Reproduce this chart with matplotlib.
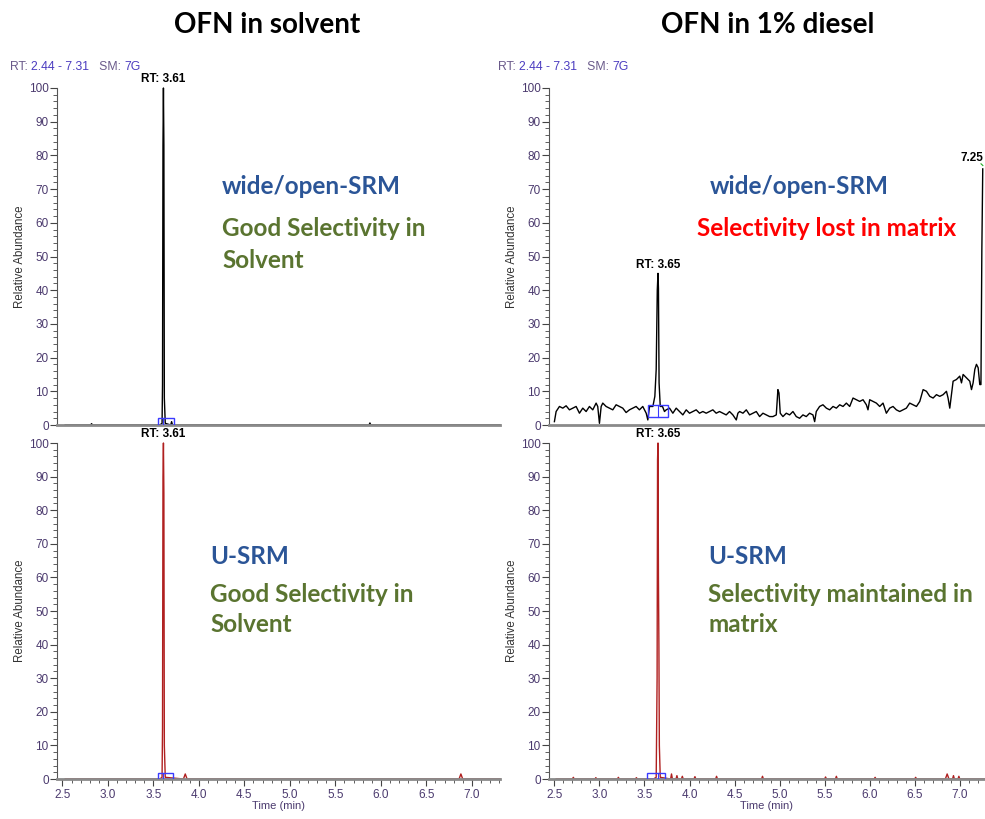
import numpy as np
import matplotlib.pyplot as plt
from matplotlib.ticker import MultipleLocator
from matplotlib.patches import Rectangle

# ---- data (time in min, relative abundance) ----
tl_t = [2.53, 2.81, 2.82, 2.83, 3.57, 3.595, 3.60, 3.605, 3.61, 3.615, 3.62, 3.63,
        3.69, 3.70, 3.71, 5.87, 5.88, 5.89, 7.31]
tl_v = [0, 0, 0.4, 0, 0, 0.5, 12, 83, 100, 83, 8, 0.5,
        0, 1.0, 0, 0, 0.6, 0, 0]

tr_t = [2.500, 2.519, 2.556, 2.593, 2.630, 2.667, 2.704, 2.741, 2.778, 2.815,
        2.852, 2.889, 2.926, 2.963, 2.981, 3.000, 3.019, 3.037, 3.074, 3.111,
        3.148, 3.185, 3.222, 3.259, 3.296, 3.333, 3.370, 3.407, 3.444, 3.481,
        3.519, 3.537, 3.556, 3.593, 3.615, 3.630, 3.642, 3.650, 3.655, 3.662,
        3.675, 3.700, 3.722, 3.741, 3.778, 3.815, 3.852, 3.889, 3.926, 3.963,
        4.000, 4.037, 4.074, 4.111, 4.148, 4.185, 4.222, 4.259, 4.296, 4.333,
        4.370, 4.407, 4.444, 4.481, 4.519, 4.537, 4.556, 4.593, 4.630, 4.667,
        4.704, 4.741, 4.778, 4.815, 4.852, 4.889, 4.926, 4.963, 4.981, 4.993,
        5.007, 5.037, 5.074, 5.111, 5.148, 5.185, 5.222, 5.259, 5.296, 5.333,
        5.370, 5.389, 5.407, 5.444, 5.481, 5.519, 5.556, 5.593, 5.630, 5.667,
        5.704, 5.741, 5.778, 5.815, 5.852, 5.889, 5.926, 5.963, 5.981, 6.000,
        6.037, 6.074, 6.111, 6.148, 6.185, 6.222, 6.259, 6.296, 6.333, 6.370,
        6.407, 6.444, 6.481, 6.519, 6.556, 6.593, 6.630, 6.667, 6.704, 6.741,
        6.778, 6.815, 6.852, 6.870, 6.889, 6.926, 6.963, 7.000, 7.019, 7.037,
        7.074, 7.111, 7.130, 7.148, 7.167, 7.185, 7.204, 7.222, 7.235, 7.245,
        7.255]
tr_v = [1.0, 4.0, 5.5, 5.0, 5.7, 4.5, 5.0, 5.5, 3.5, 5.0,
        4.0, 5.5, 4.5, 6.5, 5.5, 0.5, 5.5, 6.5, 5.5, 5.0,
        4.5, 6.0, 5.5, 5.0, 3.7, 4.5, 5.0, 5.5, 4.5, 5.5,
        3.5, 1.5, 5.5, 5.5, 8.5, 16.5, 40.0, 45.0, 40.5, 12.5,
        5.5, 5.5, 4.0, 4.5, 5.0, 3.5, 5.0, 4.0, 3.0, 4.5,
        3.5, 4.0, 4.5, 3.5, 4.0, 3.5, 4.0, 4.5, 3.5, 4.0,
        3.5, 3.0, 4.0, 3.0, 1.5, 3.5, 4.0, 3.5, 4.5, 3.0,
        3.5, 4.0, 2.5, 3.5, 3.0, 2.5, 2.5, 3.0, 10.5, 9.5,
        3.5, 2.5, 3.5, 3.0, 4.0, 2.5, 2.0, 3.0, 2.5, 3.5,
        3.0, 1.0, 4.0, 5.5, 6.0, 5.0, 4.5, 5.5, 5.0, 6.0,
        5.5, 6.5, 5.5, 8.0, 7.5, 7.0, 7.5, 6.0, 4.5, 7.5,
        7.0, 6.5, 5.5, 6.5, 3.5, 5.0, 5.5, 4.5, 4.0, 4.5,
        5.0, 6.5, 6.0, 5.5, 7.0, 10.5, 10.0, 8.5, 8.0, 9.0,
        8.5, 9.0, 10.0, 8.0, 5.0, 13.0, 13.5, 14.5, 12.5, 15.0,
        14.0, 13.0, 10.5, 12.5, 16.5, 18.0, 17.0, 12.0, 12.0, 52.0,
        76.0]

bl_t = [2.53, 3.57, 3.595, 3.60, 3.605, 3.61, 3.615, 3.62, 3.63,
        3.83, 3.85, 3.87, 6.86, 6.88, 6.90, 7.31]
bl_v = [0, 0, 0.5, 15, 90, 100, 85, 10, 0.5,
        0, 1.5, 0, 0, 1.5, 0, 0]

br_t = [2.52, 2.70, 2.71, 2.72, 2.95, 2.96, 2.97, 3.20, 3.21, 3.22,
        3.40, 3.41, 3.42, 3.60, 3.63, 3.64, 3.645, 3.65, 3.655, 3.66,
        3.665, 3.675, 3.79, 3.80, 3.81, 3.85, 3.86, 3.87, 3.91, 3.92,
        3.93, 4.05, 4.06, 4.07, 4.29, 4.30, 4.31, 4.80, 4.81, 4.82,
        5.50, 5.51, 5.52, 5.62, 5.63, 5.64, 6.05, 6.06, 6.07, 6.50,
        6.51, 6.52, 6.84, 6.86, 6.88, 6.92, 6.93, 6.94, 6.98, 6.99,
        7.00, 7.28]
br_v = [0, 0, 0.5, 0, 0, 0.4, 0, 0, 0.5, 0,
        0, 0.4, 0, 0, 0.5, 30, 95, 100, 60, 40,
        10, 0.5, 0, 1.5, 0, 0, 1.0, 0, 0, 0.8,
        0, 0, 0.7, 0, 0, 0.8, 0, 0, 0.8, 0,
        0, 0.6, 0, 0, 0.8, 0, 0, 0.5, 0, 0,
        0.5, 0, 0, 1.5, 0, 0, 1.0, 0, 0, 0.8,
        0, 0]

# integration boxes (t0, t1, y0, y1, apex)
tl_box = (3.55, 3.73, 0, 2.0, 3.61)
tr_box = (3.54, 3.76, 2.5, 6.0, 3.65)
bl_box = (3.55, 3.72, 0, 1.8, 3.61)
br_box = (3.53, 3.73, 0, 1.8, 3.65)

peak_end_t = [7.236, 7.256]
peak_end_v = [77.5, 77.0]

W, H = 985, 819
fig = plt.figure(figsize=(W / 100, H / 100), dpi=100)

def pbox(l, t, r, b):
    return [l / W, 1 - b / H, (r - l) / W, (b - t) / H]

tick_col = '#4b3a6e'
blue = '#2B5597'
green = '#5A7430'
fs_tick = 8.5

def style(ax, xlim, show_x):
    ax.set_xlim(*xlim)
    ax.set_ylim(0, 100)
    for s in ['top', 'right']:
        ax.spines[s].set_visible(False)
    ax.spines['left'].set_color('#555555')
    ax.spines['bottom'].set_color('#8a8a8a')
    ax.spines['bottom'].set_linewidth(2)
    ax.yaxis.set_major_locator(MultipleLocator(10))
    ax.yaxis.set_minor_locator(MultipleLocator(2))
    ax.tick_params(axis='y', which='major', length=5, color='#444444',
                   labelsize=fs_tick, labelcolor=tick_col, pad=1)
    ax.tick_params(axis='y', which='minor', length=3, color='#444444')
    if show_x:
        ax.xaxis.set_major_locator(MultipleLocator(0.5))
        ax.xaxis.set_minor_locator(MultipleLocator(0.1))
        ax.tick_params(axis='x', which='major', length=5, color='#444444',
                       labelsize=fs_tick, labelcolor=tick_col, pad=2)
        ax.tick_params(axis='x', which='minor', length=3, color='#444444')
        ax.set_xlabel('Time (min)', fontsize=8, color=tick_col, labelpad=0,
                      family='Liberation Sans')
    else:
        ax.set_xticks([])
    ax.set_ylabel('Relative Abundance', fontsize=8.3, color='#333333', labelpad=2,
                  family='Liberation Sans')
    for lab in ax.get_xticklabels() + ax.get_yticklabels():
        lab.set_family('Liberation Sans')

def draw_box(ax, b):
    t0, t1, y0, y1, apex = b
    ax.add_patch(Rectangle((t0, y0), t1 - t0, y1 - y0, fill=False,
                           edgecolor='#3a3aff', linewidth=1, zorder=4))
    ax.plot([apex, apex], [y0, y1], color='#3a3aff', lw=0.8, zorder=4)

def rt_label(ax, t, v, txt):
    ax.annotate(txt, (t, v), xytext=(0, 2), textcoords='offset points',
                ha='center', va='bottom', fontsize=8.5, fontweight='bold',
                family='Liberation Sans', annotation_clip=False)

ax_tl = fig.add_axes(pbox(57, 88, 500, 425))
ax_tr = fig.add_axes(pbox(549, 88, 985, 425))
ax_bl = fig.add_axes(pbox(57, 443, 500, 779))
ax_br = fig.add_axes(pbox(549, 443, 985, 779))

style(ax_tl, (2.44, 7.31), False)
style(ax_tr, (2.44, 7.28), False)
style(ax_bl, (2.44, 7.31), True)
style(ax_br, (2.44, 7.28), True)

ax_tl.plot(tl_t, tl_v, color='black', lw=1, clip_on=False)
ax_tr.plot(tr_t, tr_v, color='black', lw=1, clip_on=False)
ax_bl.plot(bl_t, bl_v, color='#b02020', lw=1, clip_on=False)
ax_br.plot(br_t, br_v, color='#b02020', lw=1, clip_on=False)
ax_tr.plot(peak_end_t, peak_end_v, color='#22aa22', lw=0.8, clip_on=False)

for ax, b in [(ax_tl, tl_box), (ax_tr, tr_box), (ax_bl, bl_box), (ax_br, br_box)]:
    draw_box(ax, b)

rt_label(ax_tl, 3.61, 100, 'RT: 3.61')
rt_label(ax_bl, 3.61, 100, 'RT: 3.61')
rt_label(ax_tr, 3.65, 45, 'RT: 3.65')
rt_label(ax_br, 3.65, 100, 'RT: 3.65')
ax_tr.annotate('7.25', (7.25, 77), xytext=(1, 1), textcoords='offset points',
               ha='right', va='bottom', fontsize=8.5, fontweight='bold',
               family='Liberation Sans', annotation_clip=False)

# panel titles
fig.text(267 / W, 1 - 25 / H, 'OFN in solvent', ha='center', va='center',
         fontsize=20, fontweight='bold', family='Lato')
fig.text(768 / W, 1 - 25 / H, 'OFN in 1% diesel', ha='center', va='center',
         fontsize=20, fontweight='bold', family='Lato')

# range / smoothing headers
for x0 in (10, 498):
    t = fig.text(x0 / W, 1 - 67 / H, 'RT: ', fontsize=8.8, color='#6a5a8a',
                 va='center', family='Liberation Sans')
    t2 = ax_tl.annotate('2.44 - 7.31', xycoords=t, xy=(1, 0), va='bottom',
                        fontsize=8.8, color='#4b3cc0', family='Liberation Sans')
    t3 = ax_tl.annotate('   SM: ', xycoords=t2, xy=(1, 0), va='bottom',
                        fontsize=8.8, color='#6a5a8a', family='Liberation Sans')
    ax_tl.annotate('7G', xycoords=t3, xy=(1, 0), va='bottom',
                   fontsize=8.8, color='#4b3cc0', family='Liberation Sans')

# overlaid callouts
txt_kw = dict(fontsize=17.5, fontweight='bold', family='Lato', va='center', ha='left')
fig.text(222 / W, 1 - 187 / H, 'wide/open-SRM', color=blue, **txt_kw)
fig.text(222 / W, 1 - 229 / H, 'Good Selectivity in', color=green, **txt_kw)
fig.text(222 / W, 1 - 261 / H, 'Solvent', color=green, **txt_kw)
fig.text(710 / W, 1 - 187 / H, 'wide/open-SRM', color=blue, **txt_kw)
fig.text(697 / W, 1 - 229 / H, 'Selectivity lost in matrix', color='#ff0000', **txt_kw)
fig.text(210 / W, 1 - 557 / H, 'U-SRM', color=blue, **txt_kw)
fig.text(210 / W, 1 - 594 / H, 'Good Selectivity in', color=green, **txt_kw)
fig.text(210 / W, 1 - 625 / H, 'Solvent', color=green, **txt_kw)
fig.text(708 / W, 1 - 557 / H, 'U-SRM', color=blue, **txt_kw)
fig.text(708 / W, 1 - 594 / H, 'Selectivity maintained in', color=green, **txt_kw)
fig.text(708 / W, 1 - 625 / H, 'matrix', color=green, **txt_kw)

fig.savefig('out.png', dpi=100)
